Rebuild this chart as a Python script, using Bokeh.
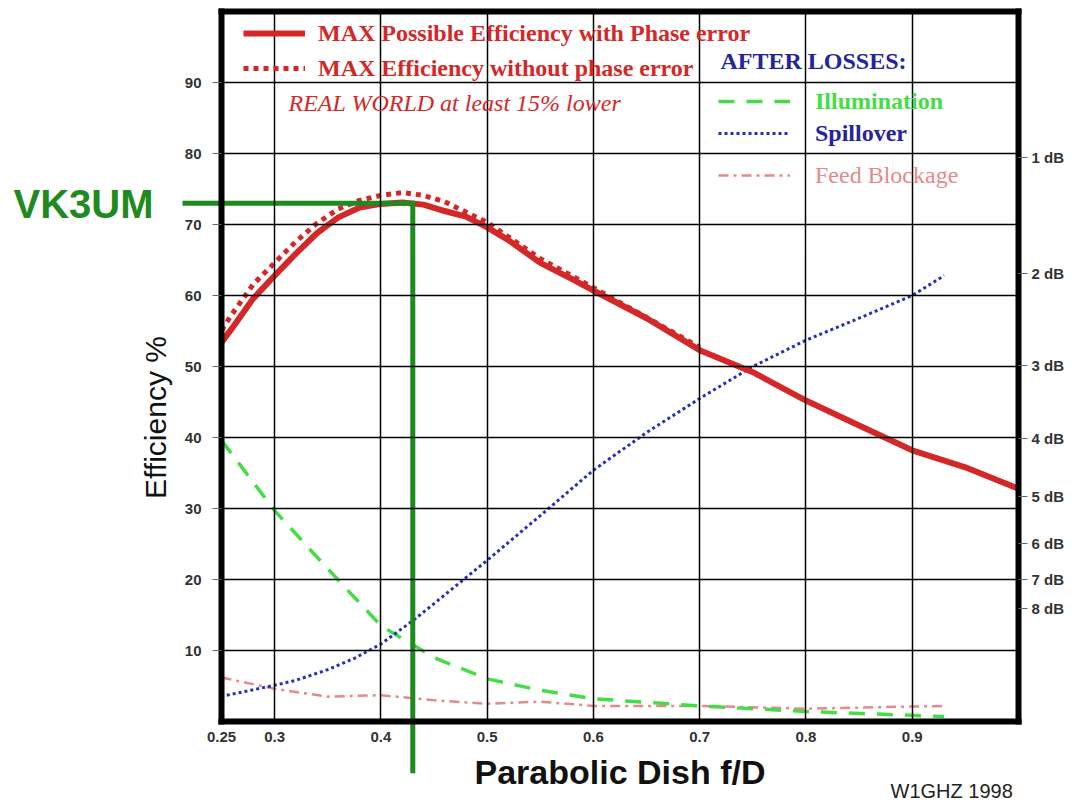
from bokeh.plotting import figure
from bokeh.models import (Range1d, FixedTicker, LinearAxis, Legend, LegendItem, Label)
from bokeh.embed import file_html
from bokeh.resources import INLINE

# ---------------- data ----------------
X_TICKS = [0.25, 0.3, 0.4, 0.5, 0.6, 0.7, 0.8, 0.9]
X_GRID = [0.3, 0.4, 0.5, 0.6, 0.7, 0.8, 0.9]
Y_TICKS = [10, 20, 30, 40, 50, 60, 70, 80, 90]
DB_VALUES = [1, 2, 3, 4, 5, 6, 7, 8]
DB_LABELS = ["1 dB", "2 dB", "3 dB", "4 dB", "5 dB", "6 dB", "7 dB", "8 dB"]
FD_MIN, FD_MAX = 0.25, 1.0
EFF_MIN, EFF_MAX = 0, 100

phase_x = [0.25, 0.26, 0.28, 0.3, 0.32, 0.34, 0.36, 0.38, 0.4, 0.42, 0.44, 0.46,
           0.48, 0.5, 0.52, 0.55, 0.58, 0.6, 0.65, 0.7, 0.75, 0.8, 0.85, 0.9, 0.95, 1.0]
phase_y = [53.4, 55.4, 59.6, 62.8, 65.9, 68.8, 71.0, 72.4, 72.9, 73.1, 72.8, 71.9,
           71.1, 69.6, 67.8, 64.6, 62.3, 60.7, 56.8, 52.3, 49.2, 45.2, 41.7, 38.2, 35.8, 32.8]

nophase_x = [0.25, 0.26, 0.28, 0.3, 0.32, 0.34, 0.36, 0.38, 0.4, 0.42, 0.44, 0.46,
             0.5, 0.55, 0.6, 0.65, 0.7]
nophase_y = [55.1, 57.4, 61.6, 64.6, 67.6, 70.2, 72.2, 73.4, 74.1, 74.5, 74.1, 73.2,
             70.3, 65.2, 61.1, 56.9, 52.7]

spill_x = [0.255, 0.3, 0.32, 0.35, 0.375, 0.4, 0.43, 0.45, 0.5, 0.55, 0.6, 0.65,
           0.7, 0.75, 0.8, 0.85, 0.9, 0.93]
spill_y = [3.7, 5.1, 5.8, 7.3, 8.9, 10.9, 14.2, 16.6, 22.7, 29.0, 35.4, 40.7,
           45.5, 50.0, 53.7, 56.8, 60.0, 62.8]

illum_x = [0.25, 0.3, 0.35, 0.4, 0.45, 0.5, 0.55, 0.6, 0.65, 0.7, 0.8, 0.93]
illum_y = [39.6, 29.7, 21.5, 13.5, 9.0, 6.0, 4.4, 3.2, 2.7, 2.2, 1.4, 0.7]

block_x = [0.25, 0.3, 0.35, 0.4, 0.45, 0.5, 0.55, 0.6, 0.7, 0.8, 0.93]
block_y = [6.2, 4.6, 3.5, 3.7, 3.0, 2.5, 2.8, 2.2, 2.2, 1.8, 2.2]

VK3UM_FD = 0.43
VK3UM_EFF = 73.0
VK3UM_LINE_LEFT = 0.2133
VK3UM_LINE_BOTTOM = -7.3

# ---------------- styles ----------------
RED = "#d42828"
BLUE = "#2530b8"
NAVY = "#25259a"
GREEN = "#45dd45"
PINK = "#e48a8a"
VKGREEN = "#1f8a1f"
SANS = "Liberation Sans"
SERIF = "Liberation Serif"

# frame = whole canvas; plot box placed with fixed-location axes
W, H = 1076, 802
BOX_L, BOX_R, BOX_T, BOX_B = 221, 1018, 11, 721
sx = (BOX_R - BOX_L) / (FD_MAX - FD_MIN)
sy = (BOX_B - BOX_T) / (EFF_MAX - EFF_MIN)
x_range = Range1d(FD_MIN - BOX_L / sx, FD_MAX + (W - BOX_R) / sx)
y_range = Range1d(EFF_MIN - (H - BOX_B) / sy, EFF_MAX + BOX_T / sy)

p = figure(width=W, height=H, output_backend="svg", toolbar_location=None,
           x_range=x_range, y_range=y_range, min_border=0,
           min_border_left=0, min_border_right=0, min_border_top=0,
           min_border_bottom=0, background_fill_color="white",
           border_fill_color="white")
p.outline_line_color = None
p.grid.visible = False

xa = p.below[0]
ya = p.left[0]


def frame_line(ax):
    ax.axis_line_color = "black"
    ax.axis_line_width = 6
    ax.axis_line_cap = "square"
    ax.minor_tick_line_color = None


def tick_labels(ax):
    ax.major_label_text_font = SANS
    ax.major_label_text_font_size = "15px"
    ax.major_label_text_font_style = "bold"
    ax.major_label_text_color = "#333333"


# bottom axis
xa.fixed_location = EFF_MIN
xa.bounds = (FD_MIN, FD_MAX)
xa.ticker = FixedTicker(ticks=X_TICKS)
frame_line(xa)
xa.major_tick_out = 0
xa.major_tick_in = 0
tick_labels(xa)
xa.major_label_standoff = 10
xa.axis_label = "Parabolic Dish f/D"
xa.axis_label_text_font = SANS
xa.axis_label_text_font_size = "34px"
xa.axis_label_text_font_style = "bold"
xa.axis_label_text_color = "#111111"
xa.axis_label_standoff = 8

# left axis (line, ticks, numbers)
ya.fixed_location = FD_MIN
ya.bounds = (EFF_MIN, EFF_MAX)
ya.ticker = FixedTicker(ticks=Y_TICKS)
frame_line(ya)
ya.major_tick_out = 9
ya.major_tick_in = 0
ya.major_tick_line_color = "#666666"
tick_labels(ya)
ya.major_label_standoff = 11

# left axis title (separate axis so it can sit lower, as in the original)
yt = LinearAxis(fixed_location=FD_MIN, bounds=(EFF_MIN, 85.6),
                ticker=FixedTicker(ticks=[]), axis_line_color=None,
                major_tick_line_color=None, minor_tick_line_color=None,
                axis_label="Efficiency %", axis_label_text_font=SANS,
                axis_label_text_font_size="30px", axis_label_text_font_style="normal",
                axis_label_text_color="#111111", axis_label_standoff=50)
p.add_layout(yt, "left")

# right dB axis
db_ticks = [round(100 * 10 ** (-d / 10), 3) for d in DB_VALUES]
ra = LinearAxis(fixed_location=FD_MAX, bounds=(EFF_MIN, EFF_MAX),
                ticker=FixedTicker(ticks=db_ticks),
                major_label_overrides={t: l for t, l in zip(db_ticks, DB_LABELS)})
frame_line(ra)
ra.major_tick_out = 9
ra.major_tick_in = 0
ra.major_tick_line_color = "#666666"
tick_labels(ra)
ra.major_label_standoff = 4
p.add_layout(ra, "right")

# top border
ta = LinearAxis(fixed_location=EFF_MAX, bounds=(FD_MIN, FD_MAX),
                ticker=FixedTicker(ticks=[]))
frame_line(ta)
ta.major_tick_line_color = None
p.add_layout(ta, "above")


def grid_axis(ticks, loc, bounds, length, side):
    # an unlabeled axis whose inward ticks span the plot box: the grid lines
    g = LinearAxis(fixed_location=loc, bounds=bounds, ticker=FixedTicker(ticks=ticks),
                   axis_line_color=None, minor_tick_line_color=None,
                   major_tick_in=length, major_tick_out=0,
                   major_tick_line_color="black", major_tick_line_width=1.5,
                   major_label_text_alpha=0, major_label_text_font_size="1px")
    p.add_layout(g, side)


grid_axis(X_GRID, EFF_MAX, (FD_MIN, FD_MAX), BOX_B - BOX_T, "above")
grid_axis(Y_TICKS, FD_MAX, (EFF_MIN, EFF_MAX), BOX_R - BOX_L, "right")

# curves
r_block = p.line(block_x, block_y, line_color=PINK, line_width=2.5, line_dash="10 5 3 5")
r_illum = p.line(illum_x, illum_y, line_color=GREEN, line_width=3.5, line_dash="16 12")
r_spill = p.line(spill_x, spill_y, line_color=BLUE, line_width=3, line_dash="3 3")
r_nophase = p.line(nophase_x, nophase_y, line_color=RED, line_width=5, line_dash="5 5")
r_phase = p.line(phase_x, phase_y, line_color=RED, line_width=6)

# VK3UM marker (reaches outside the plot box)
p.line([VK3UM_LINE_LEFT, VK3UM_FD, VK3UM_FD],
       [VK3UM_EFF, VK3UM_EFF, VK3UM_LINE_BOTTOM],
       line_color=VKGREEN, line_width=5, line_join="miter")


# legends
def mk_legend(items, color, loc, gw, style="bold", standoff=13):
    lg = Legend(items=items, location=loc, orientation="vertical",
                glyph_width=gw, glyph_height=30, label_height=30, spacing=5,
                padding=0, margin=0, label_standoff=standoff,
                label_text_font=SERIF, label_text_font_size="24px",
                label_text_font_style=style, label_text_color=color,
                border_line_color=None, background_fill_alpha=0)
    p.add_layout(lg)
    return lg


mk_legend([LegendItem(label="MAX Possible Efficiency with Phase error", renderers=[r_phase]),
           LegendItem(label="MAX Efficiency without phase error", renderers=[r_nophase])],
          RED, (243, 719), 62)
mk_legend([LegendItem(label="Illumination", renderers=[r_illum])], GREEN, (718, 686), 72,
          standoff=25)
mk_legend([LegendItem(label="Spillover", renderers=[r_spill])], NAVY, (718, 654), 72,
          standoff=25)
mk_legend([LegendItem(label="Feed Blockage", renderers=[r_block])], PINK, (718, 612), 72,
          style="normal", standoff=25)

# texts (screen units from bottom-left of the canvas)
p.add_layout(Label(x=288, y=700, x_units="screen", y_units="screen",
                   text="REAL WORLD at least 15% lower", text_font=SERIF,
                   text_font_size="24px", text_font_style="italic",
                   text_color=RED, text_baseline="middle"))
p.add_layout(Label(x=720, y=742, x_units="screen", y_units="screen",
                   text="AFTER LOSSES:", text_font=SERIF,
                   text_font_size="24px", text_font_style="bold",
                   text_color=NAVY, text_baseline="middle"))
p.add_layout(Label(x=13, y=599, x_units="screen", y_units="screen",
                   text="VK3UM", text_font=SANS, text_font_size="40px",
                   text_font_style="bold", text_color=VKGREEN,
                   text_baseline="middle"))
p.add_layout(Label(x=890, y=12, x_units="screen", y_units="screen",
                   text="W1GHZ 1998", text_font=SANS, text_font_size="20px",
                   text_color="#222222", text_baseline="middle"))

open("out.html", "w").write(file_html(p, INLINE))
